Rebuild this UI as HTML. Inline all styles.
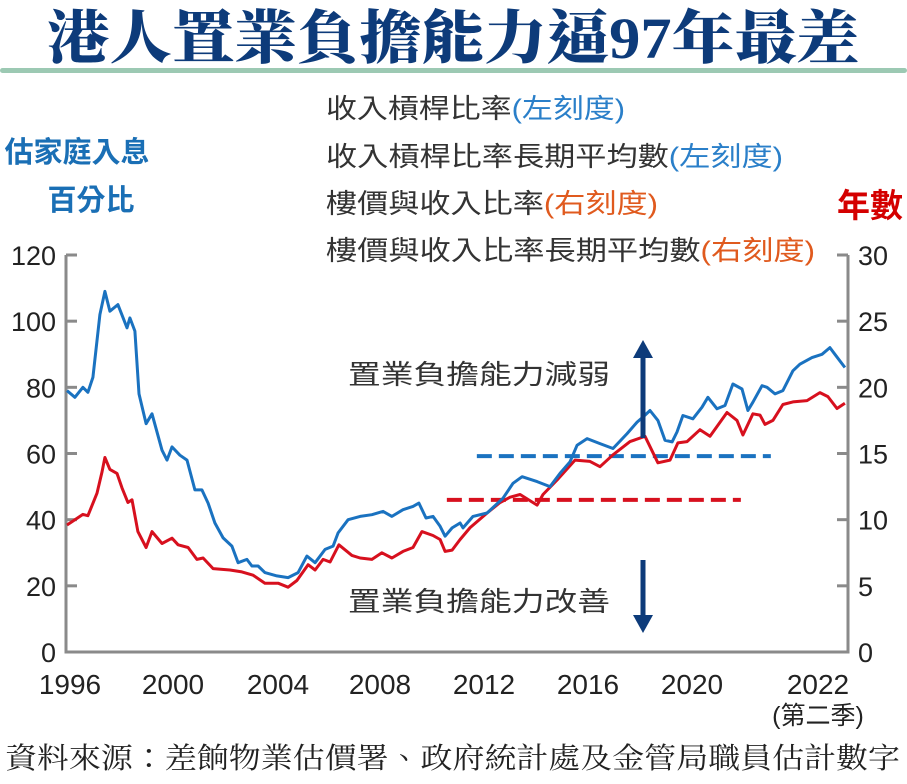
<!DOCTYPE html>
<html><head><meta charset="utf-8"><style>
html,body{margin:0;padding:0;background:#fff;}
svg{display:block;}
</style></head><body>
<svg id="chart" width="907" height="784" viewBox="0 0 907 784" xmlns="http://www.w3.org/2000/svg">
<text x="453" y="58" text-anchor="middle" font-family="'Liberation Serif','Noto Serif CJK TC',serif" font-weight="900" font-size="58" fill="#0d3b7a" textLength="812" lengthAdjust="spacingAndGlyphs">港人置業負擔能力逼97年最差</text>
<rect x="0" y="68" width="907" height="5" rx="2.5" fill="#9cc9b3"/>
<g font-family="'Liberation Sans','Noto Sans CJK TC',sans-serif" font-size="27" fill="#333">
<text x="326" y="118" textLength="299" lengthAdjust="spacingAndGlyphs">收入槓桿比率<tspan fill="#2a7fc9">(左刻度)</tspan></text>
<text x="326" y="166" textLength="457" lengthAdjust="spacingAndGlyphs">收入槓桿比率長期平均數<tspan fill="#2a7fc9">(左刻度)</tspan></text>
<text x="326" y="213" textLength="332" lengthAdjust="spacingAndGlyphs">樓價與收入比率<tspan fill="#e05a1e">(右刻度)</tspan></text>
<text x="326" y="260" textLength="489" lengthAdjust="spacingAndGlyphs">樓價與收入比率長期平均數<tspan fill="#e05a1e">(右刻度)</tspan></text>
</g>
<text x="77" y="162" text-anchor="middle" font-family="'Liberation Sans','Noto Sans CJK TC',sans-serif" font-weight="bold" font-size="29" fill="#1a6fb5">估家庭入息</text>
<text x="91" y="210" text-anchor="middle" font-family="'Liberation Sans','Noto Sans CJK TC',sans-serif" font-weight="bold" font-size="29" fill="#1a6fb5">百分比</text>
<text x="870" y="217" text-anchor="middle" font-family="'Liberation Sans','Noto Sans CJK TC',sans-serif" font-weight="bold" font-size="33" fill="#d40000">年數</text>
<g id="axes"></g>
<g id="marks"></g>
<g font-family="'Liberation Sans','Noto Sans CJK TC',sans-serif" font-size="27" fill="#333">
<text x="348" y="384" textLength="262" lengthAdjust="spacingAndGlyphs">置業負擔能力減弱</text>
<text x="348" y="611" textLength="262" lengthAdjust="spacingAndGlyphs">置業負擔能力改善</text>
<line x1="643" y1="438" x2="643" y2="355" stroke="#0d3b7a" stroke-width="5"/>
<polygon points="633,358 653,358 643,340" fill="#0d3b7a"/>
<line x1="643" y1="560" x2="643" y2="618" stroke="#0d3b7a" stroke-width="5"/>
<polygon points="633,615 653,615 643,633" fill="#0d3b7a"/>
</g>
<text x="5" y="768" font-family="'Liberation Serif','Noto Serif CJK TC',serif" font-size="29" fill="#222" textLength="895" lengthAdjust="spacingAndGlyphs">資料來源：差餉物業估價署、政府統計處及金管局職員估計數字</text>
</svg>
<script>
const blueYears=[1996.00,1996.27,1996.54,1996.71,1996.88,1997.12,1997.29,1997.46,1997.73,1998.04,1998.14,1998.31,1998.45,1998.69,1998.89,1999.23,1999.40,1999.57,1999.84,2000.08,2000.35,2000.59,2000.80,2001.03,2001.31,2001.61,2001.82,2002.12,2002.29,2002.50,2002.73,2003.14,2003.52,2003.86,2004.16,2004.44,2004.78,2005.05,2005.22,2005.56,2005.97,2006.37,2006.75,2007.05,2007.43,2007.77,2007.97,2008.21,2008.45,2008.69,2008.86,2009.10,2009.37,2009.47,2009.81,2010.29,2010.83,2011.17,2011.48,2011.99,2012.43,2012.77,2013.11,2013.35,2013.69,2014.13,2014.57,2015.05,2015.39,2015.59,2015.83,2016.10,2016.34,2016.58,2016.75,2016.95,2017.29,2017.60,2017.80,2018.11,2018.38,2018.65,2018.96,2019.16,2019.33,2019.64,2019.81,2020.08,2020.35,2020.69,2020.93,2021.34,2021.68,2021.95,2022.12,2022.46];
const blueValues=[79,77,80,78.5,83,102,109,103,105,98,101,97,78,69,72,61,58,62,59.5,58,49,49,45,39,34.5,32,27,28,26,26,24,23,22.5,24,29,27,31,32,36,40,41,41.5,42.5,41,43,44,45,40.5,41,38,35,37.5,39,37.5,41,42,46.5,51,53,51.5,50,54,57.5,62.5,64.5,63,61.5,66,69.5,71,73,70,64,63.5,66.5,71.5,70.5,74,77,73.5,74.5,81,79.5,73,75.5,80.5,80,78,79,85,87,89,90,92,90,86,88];
const redYears=[1996.00,1996.27,1996.54,1996.71,1997.02,1997.19,1997.29,1997.46,1997.70,1997.87,1998.07,1998.21,1998.41,1998.69,1998.89,1999.23,1999.57,1999.78,2000.12,2000.42,2000.63,2000.97,2001.54,2001.95,2002.33,2002.73,2003.18,2003.52,2003.82,2004.20,2004.44,2004.71,2004.95,2005.25,2005.69,2005.97,2006.37,2006.71,2007.05,2007.43,2007.77,2008.07,2008.45,2008.69,2008.86,2009.10,2009.37,2009.71,2010.29,2010.73,2011.07,2011.41,2011.99,2012.19,2012.67,2013.28,2013.79,2014.13,2014.57,2015.15,2015.66,2016.10,2016.51,2016.78,2017.09,2017.53,2017.87,2018.45,2018.79,2018.99,2019.33,2019.57,2019.74,2020.01,2020.35,2020.69,2021.17,2021.61,2021.88,2022.19,2022.46];
const redValues=[9.6,10,10.4,10.3,12,13.6,14.7,13.8,13.5,12.4,11.3,11.5,9.1,7.9,9.1,8.2,8.6,8.1,7.9,7,7.1,6.3,6.2,6.05,5.8,5.2,5.2,4.9,5.4,6.6,6.2,7,6.8,8.1,7.3,7.1,7,7.5,7.1,7.6,7.9,9.1,8.8,8.5,7.6,7.7,8.5,9.4,10.5,11.3,11.7,11.9,11.1,11.9,13,14.5,14.4,14,14.9,15.9,16.3,14.3,14.5,15.8,15.9,16.8,16.3,18.1,17.5,16.4,18,17.9,17.2,17.5,18.7,18.9,19,19.6,19.3,18.4,18.8];
const blueAvg=59.2, blueAvgRange=[2009.94,2019.94];
const redAvg=11.5, redAvgRange=[2008.92,2018.92];
const leftTicks=[0,20,40,60,80,100,120];
const rightTicks=[0,5,10,15,20,25,30];
const xTickLabels=["1996","2000","2004","2008","2012","2016","2020","2022"];
const xTickPos=[70,173,278,380,484,588,692,818];

const NS="http://www.w3.org/2000/svg";
const X0=67, PXY=29.4, YB=652, YT=255;
const xs=y=>X0+(y-1996)*PXY;
const yl=v=>YB-(v/120)*(YB-YT);
const yr=v=>YB-(v/30)*(YB-YT);
function mk(tag,attrs,parent){const e=document.createElementNS(NS,tag);for(const k in attrs)e.setAttribute(k,attrs[k]);parent.appendChild(e);return e;}
const axes=document.getElementById('axes'), marks=document.getElementById('marks');
const font="'Liberation Sans','Noto Sans CJK TC',sans-serif";
let e;
e=mk('path',{d:`M66,${YT} V${YB} H848 V${YT}`,fill:'none',stroke:'#8a8a8a','stroke-width':3},axes);


leftTicks.forEach(v=>{
  e=mk('line',{x1:66,x2:77,y1:yl(v),y2:yl(v),stroke:'#8a8a8a','stroke-width':3},axes);
  
  
  e=mk('text',{x:56,y:yl(v)+10,'text-anchor':'end','font-family':font,'font-size':27,fill:'#222'},axes);
  e.textContent=v;
  
  
});
rightTicks.forEach(v=>{
  e=mk('line',{x1:837,x2:848,y1:yr(v),y2:yr(v),stroke:'#8a8a8a','stroke-width':3},axes);
  
  
  e=mk('text',{x:858,y:yr(v)+10,'font-family':font,'font-size':27,fill:'#222'},axes);
  e.textContent=v;
  
  
});
xTickLabels.forEach((t,i)=>{
  e=mk('text',{x:xTickPos[i],y:694,'text-anchor':'middle','font-family':font,'font-size':28,fill:'#222'},axes);
  e.textContent=t;
  
  
});
e=mk('text',{x:818,y:724,'text-anchor':'middle','font-family':font,'font-size':25,fill:'#222'},axes);
e.textContent='(第二季)';



e=mk('line',{x1:xs(blueAvgRange[0]),x2:xs(blueAvgRange[1]),y1:yl(blueAvg),y2:yl(blueAvg),stroke:'#1a72c0','stroke-width':4,'stroke-dasharray':'15,7'},marks);


e=mk('line',{x1:xs(redAvgRange[0]),x2:xs(redAvgRange[1]),y1:yr(redAvg),y2:yr(redAvg),stroke:'#d7101e','stroke-width':4,'stroke-dasharray':'15,7'},marks);


e=mk('polyline',{points:redYears.map((y,i)=>xs(y).toFixed(1)+','+yr(redValues[i]).toFixed(1)).join(' '),fill:'none',stroke:'#d7101e','stroke-width':3,'stroke-linejoin':'round'},marks);


e=mk('polyline',{points:blueYears.map((y,i)=>xs(y).toFixed(1)+','+yl(blueValues[i]).toFixed(1)).join(' '),fill:'none',stroke:'#1a72c0','stroke-width':3,'stroke-linejoin':'round'},marks);


</script>
</body></html>
